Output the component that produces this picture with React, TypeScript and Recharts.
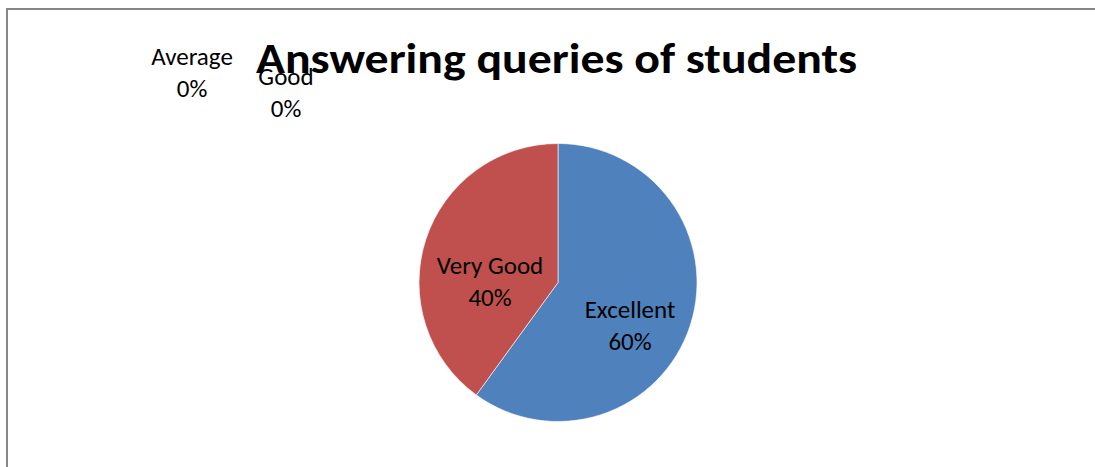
import { PieChart, Pie, Cell } from "recharts";

const categories = ["Excellent", "Very Good", "Good", "Average"];
const shares = [60, 40, 0, 0];
const colors = ["#4F81BD", "#C0504D", "#9BBB59", "#8064A2"];

// label anchor (first line baseline) relative to pie centre
const labelOffsets: Record<string, [number, number]> = {
  Excellent: [72, 35.5],
  "Very Good": [-68, -8.5],
  Good: [-272, -197.5],
  Average: [-366, -217.5],
};

const FONT = "Carlito, Calibri, Lato, sans-serif";

const rows = categories.map((name, i) => ({ name, value: shares[i] }));

function renderLabel(props: any) {
  const { cx, cy, name, value } = props;
  const [dx, dy] = labelOffsets[name] || [0, 0];
  const x = cx + dx;
  const y = cy + dy;
  return (
    <text
      key={name}
      x={x}
      y={y}
      textAnchor="middle"
      fontFamily={FONT}
      fontSize={25}
      fill="#000"
    >
      <tspan x={x} y={y}>{name}</tspan>
      <tspan x={x} y={y + 32}>{value}%</tspan>
    </text>
  );
}

export default function App() {
  return (
    <div
      style={{
        position: "absolute",
        left: 0,
        top: 0,
        width: 1095,
        height: 467,
        overflow: "hidden",
        background: "#fff",
      }}
    >
      <div
        style={{
          position: "absolute",
          left: 6,
          top: 8,
          width: 1110,
          height: 480,
          border: "2px solid #878787",
          boxSizing: "border-box",
        }}
      />
      <div style={{ position: "absolute", left: 0, top: 0 }}>
        <PieChart width={1095} height={467} margin={{ top: 0, right: 0, bottom: 0, left: 0 }}>
          <text
            x={556.5}
            y={73}
            textAnchor="middle"
            fontFamily={FONT}
            fontWeight="bold"
            fontSize={42}
            textLength={601}
            lengthAdjust="spacingAndGlyphs"
            fill="#000"
          >
            Answering queries of students
          </text>
          <Pie
            data={rows}
            dataKey="value"
            nameKey="name"
            cx={558}
            cy={282.5}
            outerRadius={139}
            startAngle={90}
            endAngle={-270}
            stroke="#ffffff"
            strokeWidth={0.6}
            label={renderLabel}
            labelLine={false}
            isAnimationActive={false}
          >
            {rows.map((r, i) => (
              <Cell key={r.name} fill={colors[i]} />
            ))}
          </Pie>
        </PieChart>
      </div>
    </div>
  );
}
